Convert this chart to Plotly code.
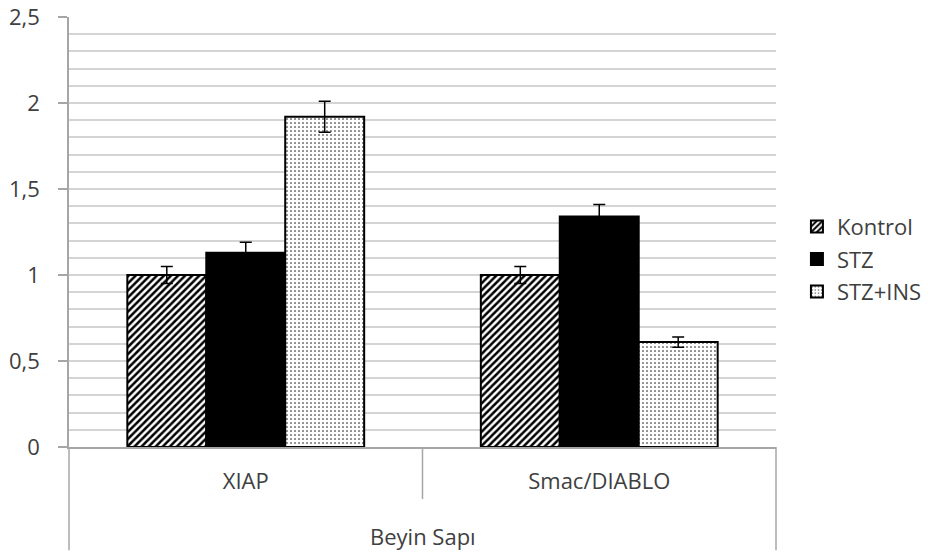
import plotly.graph_objects as go

# Relative expression in brainstem tissue
categories = ["XIAP", "Smac/DIABLO"]
group_label = "Beyin Sapı"

series_names = ["Kontrol", "STZ", "STZ+INS"]
kontrol = [1.00, 1.00]
stz = [1.13, 1.34]
stz_ins = [1.92, 0.61]

kontrol_err = [0.05, 0.05]
stz_err = [0.06, 0.07]
stz_ins_err = [0.09, 0.03]

y_ticks = [0, 0.5, 1, 1.5, 2, 2.5]
y_ticktext = ["0", "0,5", "1", "1,5", "2", "2,5"]

FONT = "Open Sans, Liberation Sans, sans-serif"
FS = 22
TEXT = "#404040"
GRID = "#d4d4d4"
AXIS = "#a6a6a6"

patterns = [
    dict(shape="/", size=5, solidity=0.5, fgcolor="black", bgcolor="white", fillmode="replace"),
    None,
    dict(shape=".", size=4, solidity=0.12, fgcolor="black", bgcolor="white", fillmode="replace"),
]
values = [kontrol, stz, stz_ins]
errors = [kontrol_err, stz_err, stz_ins_err]

fig = go.Figure()
for i, (name, vals, errs) in enumerate(zip(series_names, values, errors)):
    marker = dict(color="black" if patterns[i] is None else "white",
                  line=dict(color="black", width=2))
    if patterns[i] is not None:
        marker["pattern"] = patterns[i]
    fig.add_trace(go.Bar(
        name=name,
        x=categories,
        y=vals,
        marker=marker,
        legendgroup=name,
        error_y=dict(type="data", array=errs, visible=True,
                     color="black", thickness=1.5, width=6),
    ))

# Category-axis frame below the plot: outer edges and group divider
shapes = [
    dict(type="line", xref="paper", yref="paper", x0=0, x1=0, y0=0, y1=-0.24,
         line=dict(color=AXIS, width=1.5)),
    dict(type="line", xref="paper", yref="paper", x0=1, x1=1, y0=0, y1=-0.24,
         line=dict(color=AXIS, width=1.5)),
    dict(type="line", xref="x", yref="paper", x0=0.5, x1=0.5, y0=0, y1=-0.121,
         line=dict(color=AXIS, width=1.5)),
]

fig.update_layout(
    width=931,
    height=556,
    margin=dict(l=69, r=155, t=17, b=109),
    paper_bgcolor="white",
    plot_bgcolor="white",
    barmode="group",
    bargap=0.33,
    bargroupgap=0,
    font=dict(family=FONT, size=FS, color=TEXT),
    shapes=shapes,
    annotations=[dict(text=group_label, xref="paper", yref="paper", x=0.5, y=-0.207,
                      xanchor="center", yanchor="middle", showarrow=False,
                      font=dict(family=FONT, size=FS, color=TEXT))],
    legend=dict(xref="container", yref="container", x=0.856, y=0.534,
                xanchor="left", yanchor="middle",
                traceorder="grouped", tracegroupgap=1,
                font=dict(family=FONT, size=FS, color=TEXT),
                bgcolor="rgba(0,0,0,0)"),
    xaxis=dict(
        type="category",
        range=[-0.5, 1.5],
        automargin=False,
        showline=True, linecolor=AXIS, linewidth=1.5,
        ticks="", showgrid=False,
        ticklabelstandoff=14,
        tickfont=dict(family=FONT, size=FS, color=TEXT),
    ),
    yaxis=dict(
        range=[0, 2.5],
        automargin=False,
        tickvals=y_ticks, ticktext=y_ticktext,
        ticks="outside", ticklen=9, tickcolor=AXIS, tickwidth=1.5,
        ticklabelstandoff=14,
        showline=True, linecolor=AXIS, linewidth=1.5,
        showgrid=True, gridcolor=GRID, gridwidth=1.5,
        zeroline=False,
        minor=dict(dtick=0.1, showgrid=True, gridcolor=GRID, gridwidth=1.5, ticks=""),
        tickfont=dict(family=FONT, size=FS, color=TEXT),
    ),
)

fig.write_html("out.html")
